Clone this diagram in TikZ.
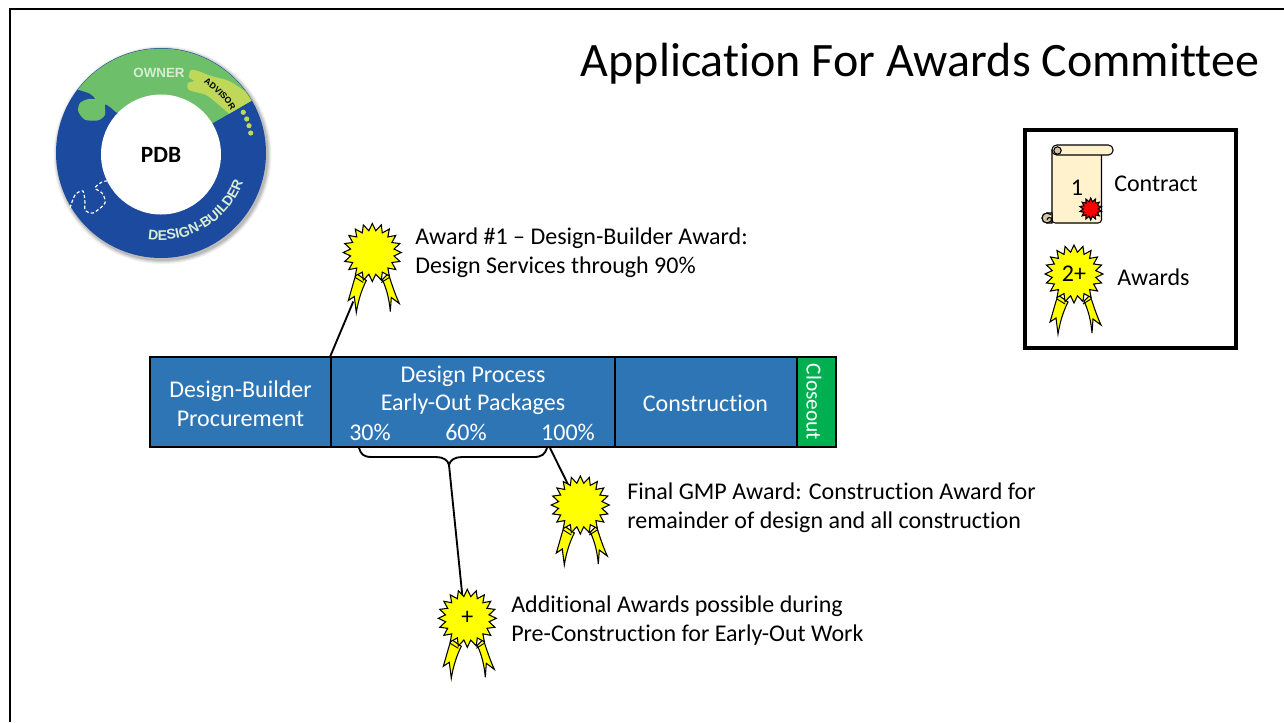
\documentclass[tikz,border=0pt]{standalone}
\usepackage{fontspec}
\setmainfont{Carlito}[Ligatures=NoCommon]
\newfontfamily\ringfont{Liberation Sans}
\usetikzlibrary{decorations.text,calc}
\definecolor{barblue}{HTML}{2E75B6}
\definecolor{closegreen}{HTML}{00B050}
\definecolor{ringblue}{HTML}{1B4A9E}
\definecolor{ringgreen}{HTML}{6DBF6A}
\definecolor{ringyellow}{HTML}{BFD85A}
\definecolor{ringtext}{HTML}{D8EDD2}
\definecolor{scrollfill}{HTML}{FFF2CC}
\definecolor{scrollcurl}{HTML}{CFC5A5}
\definecolor{awardyellow}{HTML}{FFFF00}
\definecolor{sealred}{HTML}{FF0000}
\tikzset{
  cellbox/.style={draw=black,line width=1.1pt,fill=barblue,text=white,inner sep=0pt,align=center,font=\fontsize{18}{22}\selectfont},
  bartext/.style={text=white,inner sep=0pt,font=\fontsize{18}{22}\selectfont},
  note/.style={anchor=west,inner sep=0pt,align=left,font=\fontsize{18}{22}\selectfont},
  link/.style={draw=black,line width=1.4pt},
  outline/.style={draw=black,line width=0.8pt,line join=miter},
  pics/badge/.style={code={
    \draw[outline,fill=awardyellow] (-16,21) .. controls (-19,30) and (-21,38) .. (-24,48) -- (-18,44) -- (-16,60) .. controls (-14,48) and (-11,38) .. (-6,28) -- cycle;
    \draw[outline,fill=awardyellow] (16,21) .. controls (19,30) and (22,40) .. (27,51) -- (19,45) -- (18,59) .. controls (17,48) and (15,38) .. (10,27) -- cycle;
    \draw[black,line width=0.7pt] (-17,25) -- (-9,30) (17,25) -- (9,30);
    \draw[outline,fill=awardyellow] plot[samples at={0,...,39},variable=\k] ({\k*9-90}:{ifthenelse(mod(\k,2)==0,29,22)}) -- cycle;
    \node[inner sep=0pt,font=\fontsize{18}{20}\selectfont] at (0,0) {#1};
  }},
}
\begin{document}
\begin{tikzpicture}[x=0.75pt,y=-0.75pt]
\useasboundingbox (0,0) rectangle (1284,722);
\fill[white] (0,0) rectangle (1284,722);
\draw[black,line width=1.9pt] (10,722) -- (10,9) -- (1284,9);
% ring
\begin{scope}[shift={(161,153)},y=0.75pt]
  \foreach \rr/\op in {109/.05,108/.06,107/.08,106/.1}
    \fill[black,opacity=\op] (1.5,-2) circle[radius=\rr];
  \fill[ringblue] (0,0) circle[radius=105];
  \fill[ringgreen] (142.6:104.5) arc[start angle=142.6,end angle=30,radius=104.5] -- (30:40) -- plot[smooth] coordinates {(-45,40.7) (-51,46) (-56,48.3) (-56,38.3) (-62.7,32.7) (-76,33.3) (-82.7,41.7) (-81,50) (-72.7,54) (-66,54) (-71,59.3) (-83,63.3)} -- cycle;
  \fill[ringyellow] (30:104.5) arc[start angle=30,end angle=36,radius=104.5]
     -- plot[smooth] coordinates {(84.5,61.4) (68,72) (50,77) (37,82) (30,83) (28,76) (33,72) (27,70) (28,63) (45,58) (58,48) (68,39.3)} -- cycle;
  \foreach \dx/\dy in {82.3/40.7,85.7/34,88/27.3,89.7/20}
    \fill[ringyellow] (\dx,\dy) circle[radius=2.6];
  \fill[white] (0,-1.5) circle[radius=60];
  \draw[white,line width=0.9pt,dash pattern=on 2.5pt off 1.6pt] plot[smooth] coordinates {(-91,-55) (-86,-42) (-78,-38) (-76,-50) (-76,-57) (-68,-60) (-56,-50) (-59,-40) (-66,-35) (-59,-29) (-54,-28)};
  \path[decorate,decoration={text along path,text align=center,text={|\ringfont\bfseries\fontsize{10.5}{11}\selectfont\color{ringtext}|DESIGN-BUILDER}}] (-105:87) arc[start angle=-105,end angle=-13,radius=87];
  \path[decorate,decoration={text along path,text align=center,text={|\ringfont\bfseries\fontsize{6.5}{7}\selectfont\color{black}|ADVISOR}}] (62:82) arc[start angle=62,end angle=28,radius=82];
\end{scope}
\node[inner sep=0pt,text=ringtext,font=\ringfont\bfseries\fontsize{10}{12}\selectfont] (owner) at (159,73) {OWNER};
\node[inner sep=0pt,font=\bfseries\fontsize{17.5}{20}\selectfont] (pdb) at (161,155) {PDB};
% title
\node[inner sep=0pt,font=\fontsize{36}{42}\selectfont] (title) at (920,64) {Application For Awards Committee};
% legend
\node[draw=black,line width=3pt,minimum width=158.25pt,minimum height=163.5pt,inner sep=0pt] (legend) at (1130.5,239) {};
% scroll
\draw[outline,fill=scrollfill,rounded corners=2.5pt] (1052,147) -- (1052,223) -- (1101.5,223) -- (1101.5,147) -- cycle;
\draw[outline,fill=scrollfill] (1047,213) -- (1052,213) -- (1052,223) -- (1047,223) arc[start angle=90,end angle=270,radius=5] -- cycle;
\draw[outline,fill=scrollfill,rounded corners=3.5pt] (1052,145) rectangle (1113,155);
\draw[outline,fill=scrollcurl] (1057.5,150.5) circle[radius=3.7];
\draw[outline,fill=scrollcurl] (1047,218) circle[radius=5];
\draw[outline,fill=scrollfill] (1052,213.5) -- (1052,220) arc[start angle=0,end angle=-180,radius=2.5];
\draw[outline,fill=sealred,shift={(1090.7,209)}] plot[samples at={0,...,27},variable=\k] ({\k*12.857-90}:{ifthenelse(mod(\k,2)==0,11,7.5)}) -- cycle;
\node[inner sep=0pt,font=\fontsize{18}{20}\selectfont] (one) at (1077,188) {1};
\node[note] (contract) at (1114,184) {Contract};
\coordinate (b2) at (1074,274);
\pic at (b2) {badge={2+}};
\node[note] (awards) at (1117,277) {Awards};
% bar
\node[cellbox,minimum width=135.75pt,minimum height=67.5pt] (cellA) at (240.5,402) {};
\node[cellbox,minimum width=213pt,minimum height=67.5pt] (cellB) at (473,402) {};
\node[cellbox,minimum width=136.5pt,minimum height=67.5pt] (cellC) at (706,402) {};
\node[cellbox,fill=closegreen,minimum width=29.25pt,minimum height=67.5pt] (cellD) at (816.5,402) {};
\node[bartext,align=center] (dbp) at (240.5,404) {Design-Builder\\Procurement};
\node[bartext] (con) at (705.5,403) {Construction};
\node[bartext,font=\fontsize{16}{18}\selectfont,rotate=-90] (closeout) at (814,402) {Closeout};
\node[bartext] (dp) at (473,376.5) {Design Process};
\node[bartext] (eo) at (473,404) {Early-Out Packages};
\node[bartext] (p30) at (370,432) {30\%};
\node[bartext] (p60) at (466,432) {60\%};
\node[bartext] (p100) at (568,432) {100\%};
% brace
\coordinate (braceL) at (359,448);
\coordinate (braceR) at (547,448);
\coordinate (braceTip) at (449,465);
\coordinate (barHook) at (550,448);
\draw[link] (braceL) .. controls (361,454) and (363,457) .. (372,457) -- (436,457) .. controls (443,457) and (448,460) .. (braceTip) .. controls (450,460) and (455,457) .. (462,457) -- (534,457) .. controls (542,457) and (545,454) .. (braceR);
% badges
\coordinate (b1) at (372.3,252.5);
\coordinate (b3) at (580.3,505);
\coordinate (b4) at (467.3,618.3);
\draw[link] (cellB.north west) -- ($(b1)+(-19,49)$);
\draw[link] (barHook) -- ($(b3)+(-12,-20)$);
\draw[link] (braceTip) -- ($(b4)+(-5,-23)$);
\pic at (b1) {badge={}};
\pic at (b3) {badge={}};
\pic at (b4) {badge={+}};
% notes
\node[note] (n1) at (415,253) {Award \#1 – Design-Builder Award:\\Design Services through 90\%};
\node[note] (n3) at (627,508) {Final GMP Award: Construction Award for\\remainder of design and all construction};
\node[note] (n4) at (511,620.5) {Additional Awards possible during\\Pre-Construction for Early-Out Work};
\end{tikzpicture}
\end{document}
